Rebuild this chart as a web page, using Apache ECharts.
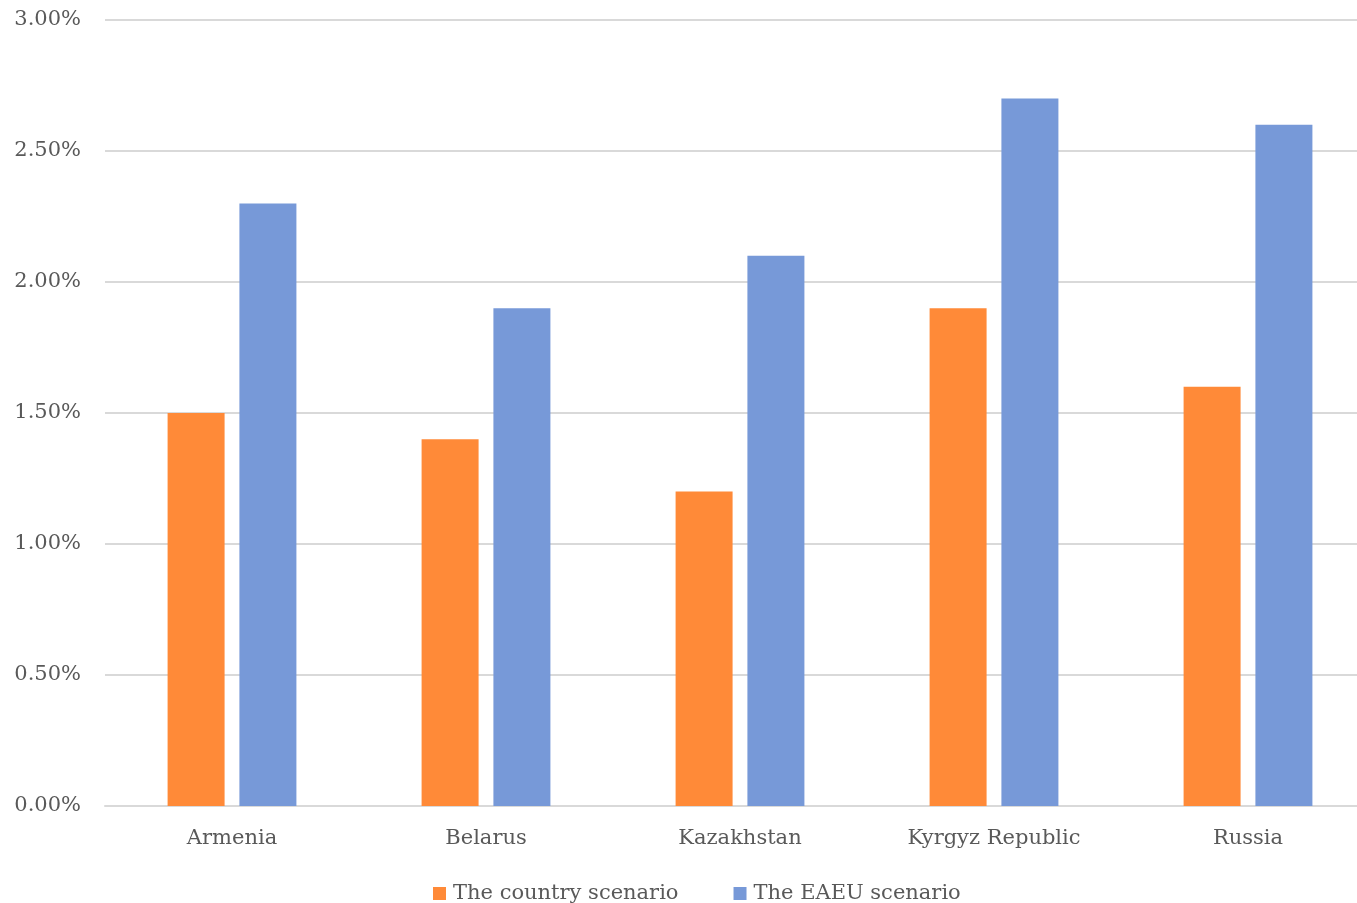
<!DOCTYPE html>
<html>
<head>
<meta charset="utf-8">
<script src="https://cdn.jsdelivr.net/npm/echarts@6/dist/echarts.min.js"></script>
<style>html,body{margin:0;padding:0;background:#fff;overflow:hidden}#c{width:1375px;height:903px}</style>
</head>
<body>
<div id="c"></div>
<script>
const categories = ['Armenia', 'Belarus', 'Kazakhstan', 'Kyrgyz Republic', 'Russia'];
const countryScenario = [1.5, 1.4, 1.2, 1.9, 1.6];
const eaeuScenario = [2.3, 1.9, 2.1, 2.7, 2.6];
const seriesNames = ['The country scenario', 'The EAEU scenario'];
const yTicks = [0, 0.5, 1, 1.5, 2, 2.5, 3];

const FONT = '"DejaVu Serif", serif';
const chart = echarts.init(document.getElementById('c'), null, {renderer: 'canvas'});
chart.setOption({
  animation: false,
  backgroundColor: '#ffffff',
  grid: {left: 105, top: 20, right: 0, height: 786, containLabel: false},
  legend: {
    data: seriesNames,
    top: 878,
    left: 428,
    icon: 'rect',
    itemWidth: 13,
    itemHeight: 13,
    itemGap: 55,
    textStyle: {fontFamily: FONT, fontSize: 21, color: '#595959', padding: [0, 0, 0, 2]}
  },
  xAxis: {
    type: 'category',
    data: categories,
    axisLine: {lineStyle: {color: '#d9d9d9', width: 2}},
    axisTick: {show: false},
    axisLabel: {fontFamily: FONT, fontSize: 21, color: '#595959', margin: 22}
  },
  yAxis: {
    type: 'value',
    min: yTicks[0],
    max: yTicks[yTicks.length - 1],
    interval: 0.5,
    axisLine: {show: false},
    axisTick: {show: false},
    splitLine: {lineStyle: {color: '#d9d9d9', width: 2}},
    axisLabel: {fontFamily: FONT, fontSize: 21, color: '#595959', margin: 24,
      formatter: v => v.toFixed(2) + '%'}
  },
  series: [
    {name: seriesNames[0], type: 'bar', data: countryScenario, barWidth: 57, barGap: '26%',
     itemStyle: {color: '#ff8a38'}},
    {name: seriesNames[1], type: 'bar', data: eaeuScenario, barWidth: 57, barGap: '26%',
     itemStyle: {color: '#7799d8'}}
  ]
});
</script>
</body>
</html>
